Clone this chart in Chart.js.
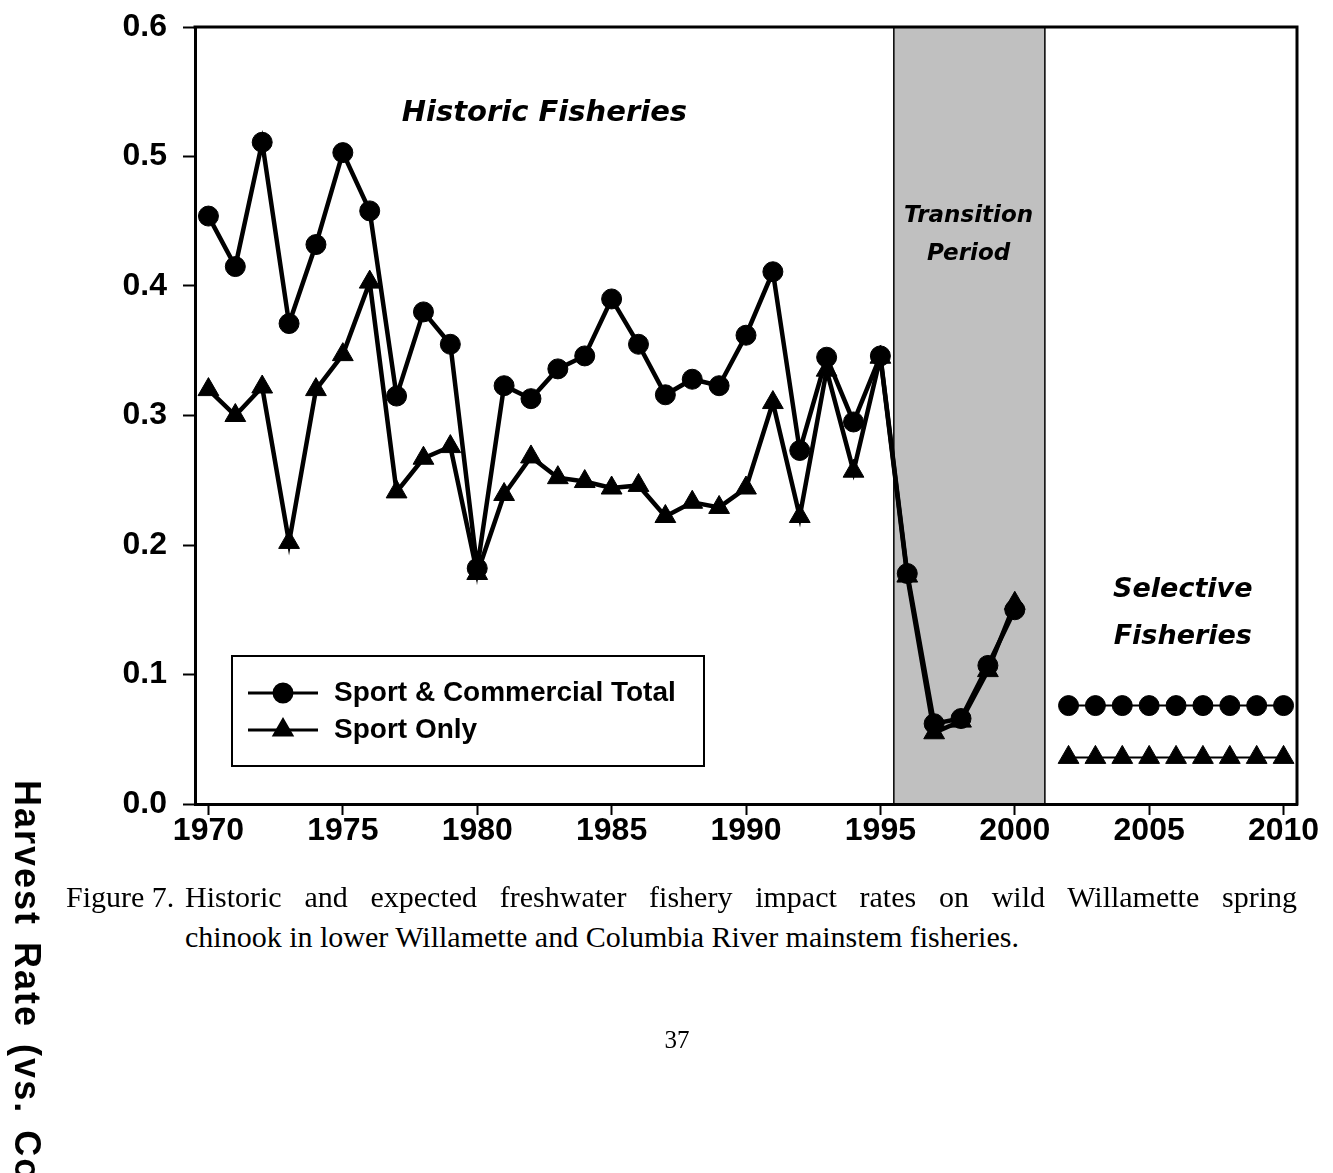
<!DOCTYPE html>
<html>
<head>
<meta charset="utf-8">
<title>Harvest rate chart</title>
<script src="https://cdn.jsdelivr.net/npm/chart.js@4.4.1/dist/chart.umd.min.js"></script>
<style>
  html, body { margin: 0; padding: 0; background: #fff; }
  #page { position: relative; width: 1333px; height: 1173px; overflow: hidden; background: #fff; }
  #chart { position: absolute; left: 0; top: 0; }
  .serif { position: absolute; font-family: "Liberation Serif", "Times New Roman", serif; font-size: 30px; line-height: 40px; color: #000; white-space: nowrap; }
  #figno { left: 66px; top: 877px; }
  #line1 { left: 185px; top: 877px; width: 1112px; text-align: justify; text-align-last: justify; white-space: normal; }
  #line2 { left: 185px; top: 917px; }
  #pageno { left: 0; width: 1354px; top: 1020px; text-align: center; font-size: 25px; }
  #ytitle { position: absolute; left: 6px; top: 780px; writing-mode: vertical-rl; font-family: "Liberation Sans", Arial, sans-serif; font-weight: bold; font-size: 36px; letter-spacing: 2px; word-spacing: 4px; white-space: nowrap; color: #000; }
</style>
</head>
<body>
<div id="page">
  <canvas id="chart" width="1333" height="880"></canvas>
  <div id="ytitle">Harvest Rate (vs. Co</div>
  <div class="serif" id="figno">Figure 7.</div>
  <div class="serif" id="line1">Historic and expected freshwater fishery impact rates on wild Willamette spring</div>
  <div class="serif" id="line2">chinook in lower Willamette and Columbia River mainstem fisheries.</div>
  <div class="serif" id="pageno">37</div>
</div>
<script>
  // years on the x axis (2001 has no value, the line breaks there)
  const years = [1970, 1971, 1972, 1973, 1974, 1975, 1976, 1977, 1978, 1979,
                 1980, 1981, 1982, 1983, 1984, 1985, 1986, 1987, 1988, 1989,
                 1990, 1991, 1992, 1993, 1994, 1995, 1996, 1997, 1998, 1999,
                 2000, 2001, 2002, 2003, 2004, 2005, 2006, 2007, 2008, 2009, 2010];

  const totalRate = [0.454, 0.415, 0.511, 0.371, 0.432, 0.503, 0.458, 0.315, 0.380, 0.355,
                     0.182, 0.323, 0.313, 0.336, 0.346, 0.390, 0.355, 0.316, 0.328, 0.323,
                     0.362, 0.411, 0.273, 0.345, 0.295, 0.346, 0.178, 0.062, 0.066, 0.107,
                     0.150, null, 0.076, 0.076, 0.076, 0.076, 0.076, 0.076, 0.076, 0.076, 0.076];

  const sportRate = [0.320, 0.300, 0.322, 0.202, 0.320, 0.347, 0.403, 0.241, 0.267, 0.276,
                     0.178, 0.239, 0.268, 0.252, 0.249, 0.244, 0.246, 0.222, 0.233, 0.229,
                     0.244, 0.310, 0.222, 0.335, 0.257, 0.345, 0.176, 0.055, 0.064, 0.103,
                     0.155, null, 0.036, 0.036, 0.036, 0.036, 0.036, 0.036, 0.036, 0.036, 0.036];

  const xTickYears = [1970, 1975, 1980, 1985, 1990, 1995, 2000, 2005, 2010];
  const yTickValues = [0.0, 0.1, 0.2, 0.3, 0.4, 0.5, 0.6];

  const seriesNames = ['Sport & Commercial Total', 'Sport Only'];
  const transitionPeriod = [1995.5, 2001.12];
  const selectiveStart = 2002;

  const tickFont = { family: '"Liberation Sans", Arial, sans-serif', size: 32, weight: 'bold' };

  // gray band behind everything for the transition years
  const bandPlugin = {
    id: 'band',
    beforeDraw(chart) {
      const { ctx, chartArea, scales } = chart;
      const x0 = scales.x.getPixelForValue(transitionPeriod[0]);
      const x1 = scales.x.getPixelForValue(transitionPeriod[1]);
      ctx.save();
      ctx.fillStyle = '#c0c0c0';
      ctx.fillRect(x0, chartArea.top, x1 - x0, chartArea.bottom - chartArea.top);
      ctx.strokeStyle = '#000';
      ctx.lineWidth = 1.5;
      ctx.beginPath();
      ctx.moveTo(x0, chartArea.top); ctx.lineTo(x0, chartArea.bottom);
      ctx.moveTo(x1, chartArea.top); ctx.lineTo(x1, chartArea.bottom);
      ctx.stroke();
      ctx.restore();
    }
  };

  // top and right edges of the plot frame
  const framePlugin = {
    id: 'frame',
    afterDatasetsDraw(chart) {
      const { ctx, chartArea } = chart;
      ctx.save();
      ctx.strokeStyle = '#000';
      ctx.lineWidth = 3;
      ctx.beginPath();
      ctx.moveTo(chartArea.left - 1.5, chartArea.top);
      ctx.lineTo(chartArea.right, chartArea.top);
      ctx.lineTo(chartArea.right, chartArea.bottom + 1.5);
      ctx.stroke();
      ctx.restore();
    }
  };

  const annotations = [
    { lines: ['Historic Fisheries'], x: 1982.5, y: 0.533, size: 29, gap: 0 },
    { lines: ['Transition', 'Period'], x: 1998.28, y: 0.454, size: 23, gap: 38 },
    { lines: ['Selective', 'Fisheries'], x: 2006.25, y: 0.165, size: 27, gap: 47 }
  ];

  const textPlugin = {
    id: 'labels',
    afterDatasetsDraw(chart) {
      const { ctx, scales } = chart;
      ctx.save();
      ctx.fillStyle = '#000';
      ctx.textAlign = 'center';
      ctx.textBaseline = 'middle';
      annotations.forEach(a => {
        ctx.font = 'italic bold ' + a.size + 'px "DejaVu Sans", sans-serif';
        const px = scales.x.getPixelForValue(a.x);
        const py = scales.y.getPixelForValue(a.y);
        a.lines.forEach((t, i) => ctx.fillText(t, px, py + i * a.gap));
      });
      ctx.restore();
    }
  };

  // boxed legend inside the plot, lower left
  const legendPlugin = {
    id: 'boxLegend',
    afterDraw(chart) {
      const { ctx } = chart;
      const box = { left: 232, top: 656, right: 704, bottom: 766 };
      const rows = [693, 730];
      ctx.save();
      ctx.strokeStyle = '#000';
      ctx.lineWidth = 2;
      ctx.strokeRect(box.left, box.top, box.right - box.left, box.bottom - box.top);
      chart.data.datasets.forEach((ds, i) => {
        const y = rows[i];
        ctx.lineWidth = 3;
        ctx.beginPath();
        ctx.moveTo(248, y); ctx.lineTo(318, y);
        ctx.stroke();
        ctx.fillStyle = '#000';
        Chart.helpers.drawPoint(ctx, { pointStyle: ds.pointStyle, radius: ds.pointStyle === 'circle' ? 9 : 10, borderWidth: 1 }, 283, y);
        ctx.fill();
        ctx.font = 'bold 28px "Liberation Sans", Arial, sans-serif';
        ctx.textAlign = 'left';
        ctx.textBaseline = 'middle';
        ctx.fillText(ds.label, 334, y);
      });
      ctx.restore();
    }
  };

  const thinAfter = ctx => ctx.p0.parsed.x >= selectiveStart ? 2 : undefined;

  function makeSeries(label, values, style, radius) {
    return {
      label: label,
      data: years.map((yr, i) => ({ x: yr, y: values[i] })),
      borderColor: '#000',
      backgroundColor: '#000',
      borderWidth: 4.5,
      pointStyle: style,
      pointRadius: radius,
      pointBorderWidth: 1,
      pointBackgroundColor: '#000',
      pointBorderColor: '#000',
      spanGaps: false,
      tension: 0,
      segment: { borderWidth: thinAfter }
    };
  }

  new Chart(document.getElementById('chart'), {
    type: 'line',
    data: {
      datasets: [
        makeSeries(seriesNames[0], totalRate, 'circle', 10),
        makeSeries(seriesNames[1], sportRate, 'triangle', 12)
      ]
    },
    options: {
      responsive: false,
      animation: false,
      devicePixelRatio: 1,
      layout: { padding: { left: 0, right: 36, top: 27, bottom: 0 } },
      plugins: { legend: { display: false }, tooltip: { enabled: false } },
      scales: {
        x: {
          type: 'linear',
          min: 1969.5,
          max: 2010.5,
          afterBuildTicks: s => { s.ticks = xTickYears.map(v => ({ value: v })); },
          afterFit: s => { s.height = 76; s.paddingLeft = 0; s.paddingRight = 0; },
          grid: { drawOnChartArea: false, drawTicks: true, tickLength: 11, tickWidth: 2, tickColor: '#000' },
          border: { display: true, color: '#000', width: 3 },
          ticks: { font: tickFont, color: '#000', padding: -3, maxRotation: 0, callback: v => String(v) }
        },
        y: {
          min: 0,
          max: 0.6,
          afterBuildTicks: s => { s.ticks = yTickValues.map(v => ({ value: v })); },
          afterFit: s => { s.width = 195; s.paddingTop = 0; s.paddingBottom = 0; },
          grid: { drawOnChartArea: false, drawTicks: true, tickLength: 12, tickWidth: 2, tickColor: '#000' },
          border: { display: true, color: '#000', width: 3 },
          ticks: { font: tickFont, color: '#000', padding: 16, callback: v => v.toFixed(1) }
        }
      }
    },
    plugins: [bandPlugin, framePlugin, textPlugin, legendPlugin]
  });
</script>
</body>
</html>
